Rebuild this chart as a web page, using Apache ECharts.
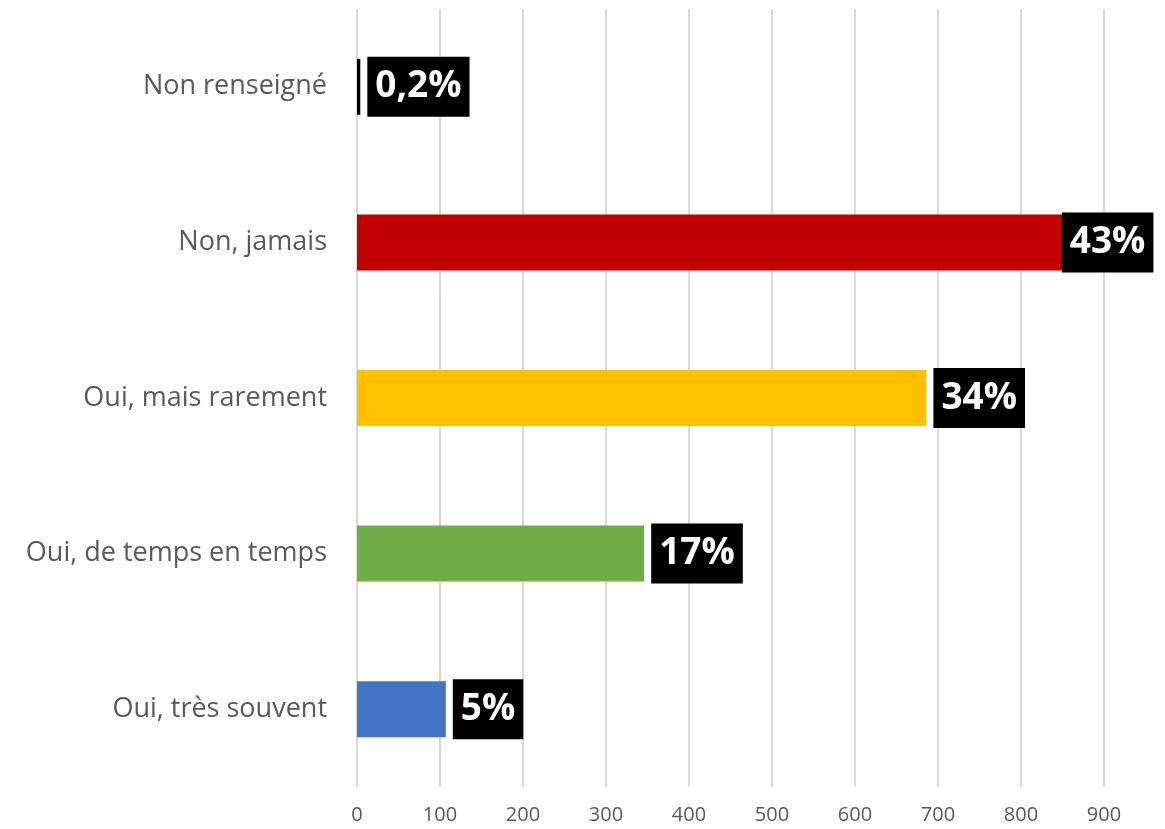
<!DOCTYPE html>
<html>
<head>
<meta charset="utf-8">
<script src="https://cdn.jsdelivr.net/npm/echarts@6/dist/echarts.min.js"></script>
<style>
  html, body { margin: 0; padding: 0; background: #fff; }
  #chart { width: 1165px; height: 829px; }
</style>
</head>
<body>
<div id="chart"></div>
<script>
// bottom to top, like the category axis
const categories = ['Oui, très souvent', 'Oui, de temps en temps', 'Oui, mais rarement', 'Non, jamais', 'Non renseigné']
const counts = [107, 346, 686, 868, 4]
const percents = ['5%', '17%', '34%', '43%', '0,2%']
const colors = ['#4472C4', '#70AD47', '#FFC000', '#C00000', '#000000']

let myChart = echarts.init(document.getElementById('chart'))

const labelStyle = {
  show: true,
  position: 'right',
  distance: 7,
  backgroundColor: '#000',
  color: '#fff',
  fontWeight: 'bold',
  fontSize: 37,
  fontFamily: 'Open Sans',
  lineHeight: 44,
  padding: [8, 8, 8, 8],
  formatter: p => percents[p.dataIndex]
}

const barData = counts.map((v, i) => {
  let item = { value: v, itemStyle: { color: colors[i] } }
  // the long bar: Excel pushed the label back over the end of the bar
  if (i === 3) item.label = { position: 'insideRight', distance: 0, offset: [76, 0] }
  return item
})

myChart.setOption({
  animation: false,
  grid: { left: 357, width: 747, top: 9, bottom: 42, containLabel: false },
  xAxis: {
    type: 'value',
    min: 0,
    max: 900,
    interval: 100,
    axisLine: { show: false },
    axisTick: { show: false },
    axisLabel: { color: '#595959', fontSize: 20, fontFamily: 'Open Sans', margin: 18 },
    splitLine: { lineStyle: { color: '#D9D9D9', width: 2 } }
  },
  yAxis: {
    type: 'category',
    data: categories,
    axisLine: { show: false },
    axisTick: { show: false },
    axisLabel: { color: '#595959', fontSize: 27, fontFamily: 'Open Sans', margin: 30 }
  },
  series: [
    {
      type: 'bar',
      data: barData,
      barWidth: 56,
      label: labelStyle
    }
  ]
})
</script>
</body>
</html>
